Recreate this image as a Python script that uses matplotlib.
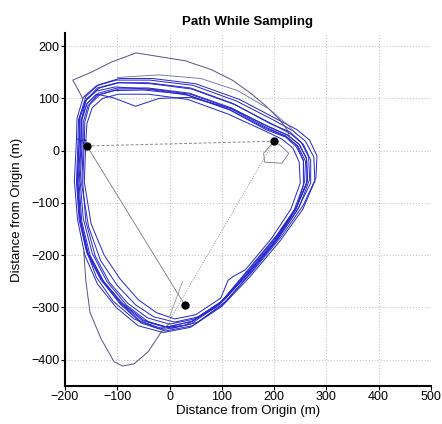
import matplotlib
matplotlib.use("Agg")
import matplotlib.pyplot as plt

plt.rcParams['font.family'] = ['Liberation Sans', 'DejaVu Sans']

# GPS track, one list pair per lap (m from origin)
lap_a_x = [-160, -163, -150, -125, -95, -60, -25, 10, 50, 98, 112, 123, 145, 195, 232, 250, 248, 236, 215, 182, 112, 35, -40, -98, -128, -148, -158]
lap_a_y = [20, -60, -140, -200, -245, -285, -310, -322, -314, -282, -248, -240, -228, -168, -112, -62, -22, 5, 22, 38, 70, 98, 108, 108, 100, 82, 52]
lap_b_x = [-178, -182, -176, -162, -138, -102, -60, -12, 40, 100, 155, 212, 255, 278, 276, 260, 236, 200, 128, 45, -38, -102, -140, -165, -177]
lap_b_y = [22, -58, -132, -200, -255, -300, -335, -348, -338, -298, -240, -172, -112, -58, -12, 18, 38, 58, 95, 125, 135, 135, 124, 102, 62]
lap_c_x = [-170, -175, -170, -155, -128, -92, -52, -8, 42, 98, 150, 204, 244, 264, 262, 248, 225, 188, 118, 38, -42, -100, -136, -158, -169]
lap_c_y = [18, -62, -134, -198, -248, -292, -325, -338, -327, -290, -230, -164, -106, -58, -16, 12, 30, 46, 82, 110, 120, 120, 110, 90, 58]
lap_d_x = [-165, -168, -155, -132, -100, -65, -30, 10, 55, 105, 155, 206, 242, 258, 256, 242, 222, 185, 115, 30, -50, -105, -138, -156, -165]
lap_d_y = [15, -65, -145, -210, -258, -295, -318, -328, -318, -285, -230, -168, -112, -60, -18, 8, 26, 40, 78, 108, 116, 115, 106, 86, 55]
lap_e_x = [-172, -176, -172, -160, -140, -108, -68, -22, 30, 88, 140, 198, 242, 270, 270, 256, 232, 198, 125, 42, -36, -96, -134, -158, -171]
lap_e_y = [25, -55, -125, -188, -242, -288, -322, -340, -334, -300, -245, -180, -118, -62, -18, 12, 32, 50, 88, 118, 128, 130, 120, 100, 65]
lap_f_x = [-167, -171, -165, -148, -120, -82, -40, 5, 55, 108, 158, 210, 248, 268, 266, 252, 230, 192, 122, 40, -42, -100, -138, -160, -168]
lap_f_y = [20, -58, -130, -196, -250, -296, -328, -340, -328, -288, -230, -165, -108, -55, -12, 16, 36, 52, 90, 120, 130, 130, 120, 96, 62]
lap_g_x = [-169, -173, -168, -152, -126, -90, -50, -6, 44, 100, 150, 205, 244, 264, 262, 248, 226, 190, 120, 40, -20, -65, -110, -140, -158, -168]
lap_g_y = [18, -62, -135, -200, -250, -292, -324, -338, -326, -288, -228, -162, -106, -56, -14, 12, 30, 46, 80, 102, 100, 85, 102, 108, 90, 58]
lap_h_x = [-175, -178, -173, -158, -132, -96, -56, -10, 40, 96, 146, 200, 240, 262, 260, 246, 222, 186, 116, 36, -44, -104, -140, -162, -174]
lap_h_y = [22, -60, -132, -196, -246, -290, -326, -342, -332, -294, -238, -172, -114, -64, -20, 8, 28, 42, 78, 106, 118, 122, 114, 94, 60]
lap_i_x = [-163, -166, -160, -142, -115, -80, -42, 0, 48, 100, 148, 198, 236, 256, 256, 244, 222, 186, 118, 40, -35, -96, -132, -153, -162]
lap_i_y = [20, -62, -136, -202, -252, -292, -320, -332, -322, -290, -238, -178, -120, -66, -20, 10, 28, 44, 80, 108, 118, 118, 108, 88, 55]
lap_j_x = [-173, -177, -171, -156, -130, -94, -54, -8, 44, 102, 158, 214, 256, 280, 282, 268, 244, 206, 134, 50, -32, -96, -136, -160, -172]
lap_j_y = [20, -60, -134, -198, -248, -294, -330, -345, -335, -294, -232, -164, -104, -52, -10, 20, 40, 60, 98, 128, 138, 138, 126, 104, 64]

# stray segments of the track
top_stray_x = [-166, -185, -150, -110, -64, -20, 30, 80, 120, 155, 185, 210, 225, 230]
top_stray_y = [100, 135, 150, 170, 187, 180, 172, 155, 135, 110, 85, 60, 40, 25]
upper_stray_x = [-100, -20, 60, 130, 190, 225, 245]
upper_stray_y = [140, 145, 138, 115, 80, 50, 30]
low_stray_x = [-164, -160, -152, -131, -106, -90, -68, -41, -16, 0]
low_stray_y = [-194, -250, -310, -360, -404, -412, -408, -385, -347, -330]
knot_x = [200, 180, 182, 215, 228, 212, 200]
knot_y = [18, -5, -22, -24, -5, 10, 18]

# sampling stations
station_x = [-158, 200, 29]
station_y = [9, 18, -295]

laps = [(lap_a_x, lap_a_y), (lap_b_x, lap_b_y), (lap_c_x, lap_c_y), (lap_d_x, lap_d_y),
        (lap_e_x, lap_e_y), (lap_f_x, lap_f_y), (lap_g_x, lap_g_y), (lap_h_x, lap_h_y),
        (lap_i_x, lap_i_y), (lap_j_x, lap_j_y)]

fig = plt.figure(figsize=(4.42, 4.24), dpi=100)
ax = fig.add_axes([0.147, 0.090, 0.828, 0.832])

for lx, ly in laps:
    ax.plot(lx + lx[:1], ly + ly[:1], color='#2626cc', lw=0.7)

ax.plot(top_stray_x, top_stray_y, color='#55557a', lw=0.7)
ax.plot(upper_stray_x, upper_stray_y, color='#6a6aa8', lw=0.6)
ax.plot(low_stray_x, low_stray_y, color='#55557a', lw=0.7)
ax.plot(knot_x, knot_y, color='#777788', lw=0.6)

# straight legs between stations
ax.plot([station_x[0], station_x[1]], [station_y[0], station_y[1]], color='#888888', lw=0.7, ls=(0, (3, 2)))
ax.plot([station_x[0], station_x[2]], [station_y[0], station_y[2]], color='#777777', lw=0.6)
ax.plot([station_x[1], -15], [station_y[1], -350], color='#999999', lw=0.6, ls=(0, (1.5, 1.5)))
ax.plot([25, 0], [-250, -318], color='#999999', lw=0.6)

ax.plot(station_x, station_y, 'o', color='black', markersize=5)

ax.set_xlim(-200, 500)
ax.set_ylim(-450, 225)
ax.set_xticks(range(-200, 501, 100))
ax.set_yticks(range(-400, 201, 100))
ax.grid(True, color='#c4c4c4', ls=':', lw=0.8)
ax.set_axisbelow(True)
for side in ['top', 'right']:
    ax.spines[side].set_visible(False)
for side in ['left', 'bottom']:
    ax.spines[side].set_linewidth(1.5)
ax.tick_params(direction='out', length=3, width=0.8, labelsize=9, pad=1)

ax.set_title('Path While Sampling', fontsize=9.5, fontweight='bold', pad=6)
ax.set_xlabel('Distance from Origin (m)', fontsize=9.5, labelpad=1)
ax.set_ylabel('Distance from Origin (m)', fontsize=9.5, labelpad=6)

fig.savefig('out.png', dpi=100)
